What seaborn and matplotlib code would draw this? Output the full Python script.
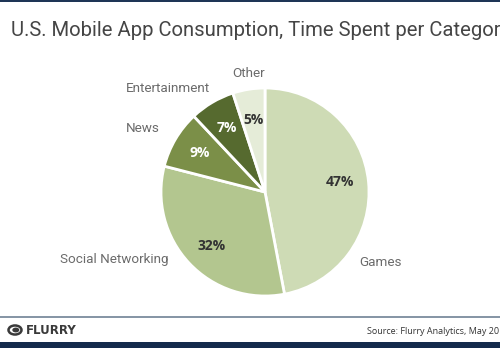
import matplotlib
matplotlib.use("Agg")
import matplotlib.pyplot as plt
import seaborn as sns
from matplotlib.patches import Circle, Rectangle

sns.set_theme(style="white")
plt.rcParams["font.family"] = ["Roboto", "DejaVu Sans"]

categories = ["Games", "Social Networking", "News", "Entertainment", "Other"]
shares = [47, 32, 9, 7, 5]
colors = ["#cedbb5", "#b3c68f", "#7b8f48", "#566a2f", "#e5ecd8"]
pct_colors = ["#333333", "#333333", "#ffffff", "#ffffff", "#333333"]

W, H = 500, 348
fig = plt.figure(figsize=(W / 100, H / 100), dpi=100)
fig.patch.set_facecolor("white")

# pie centre and radius in pixels
cx, cy, r = 265, 192, 104
ax = fig.add_axes([(cx - r) / W, (H - cy - r) / H, 2 * r / W, 2 * r / H])
wedges, _ = ax.pie(shares, colors=colors, startangle=90, counterclock=False,
                   wedgeprops=dict(edgecolor="white", linewidth=2))
ax.set_xlim(-1, 1)
ax.set_ylim(-1, 1)
ax.set_aspect("equal")
ax.axis("off")

def to_data(x, y):
    return (x - cx) / r, (cy - y) / r

# category labels
label_pos = {
    "Games": (381, 263, "center"),
    "Social Networking": (114, 259, "center"),
    "News": (143, 129, "center"),
    "Entertainment": (168, 89, "center"),
    "Other": (249, 74, "center"),
}
for cat in categories:
    x, y, ha = label_pos[cat]
    dx, dy = to_data(x, y)
    ax.text(dx, dy, cat, ha=ha, va="center", fontsize=9.7, color="#6b6b6b",
            clip_on=False)

# percentage labels
pct_pos = [(340, 182), (212, 246), (200, 153), (227, 128), (254, 120)]
for val, (x, y), c in zip(shares, pct_pos, pct_colors):
    dx, dy = to_data(x, y)
    ax.text(dx, dy, f"{val}%", ha="center", va="center", fontsize=10,
            fontweight="bold", color=c, family=["Open Sans", "DejaVu Sans"])

# title
fig.text(11 / W, 1 - 31 / H, "U.S. Mobile App Consumption, Time Spent per Category",
         ha="left", va="center", fontsize=14.6, color="#454545")

# top rule, footer rule and bottom band
fig.add_artist(Rectangle((0, 1 - 2 / H), 1, 2 / H, transform=fig.transFigure,
                         color="#1e3556", lw=0))
fig.add_artist(Rectangle((0, 1 - 318 / H), 1, 2 / H, transform=fig.transFigure,
                         color="#8796a6", lw=0))
fig.add_artist(Rectangle((0, 0), 1, 6 / H, transform=fig.transFigure,
                         color="#142a4c", lw=0))

# footer logo and source
fig.add_artist(Circle((15 / W, 1 - 330 / H), 6.5 / W, transform=fig.transFigure,
                      facecolor="white", edgecolor="#3a3a3a", lw=1.8))
fig.add_artist(Circle((15.8 / W, 1 - 330 / H), 3.5 / W, transform=fig.transFigure,
                      facecolor="#3a3a3a", edgecolor="none"))
fig.text(26 / W, 1 - 330 / H, "FLURRY", ha="left", va="center", fontsize=8.5,
         fontweight="heavy", color="#3a3a3a", family=["DejaVu Sans"])
fig.text(367 / W, 1 - 331 / H, "Source: Flurry Analytics, May 2012", ha="left",
         va="center", fontsize=6.5, color="#333333", family=["Open Sans", "DejaVu Sans"])

fig.savefig("out.png", dpi=100, facecolor="white")
